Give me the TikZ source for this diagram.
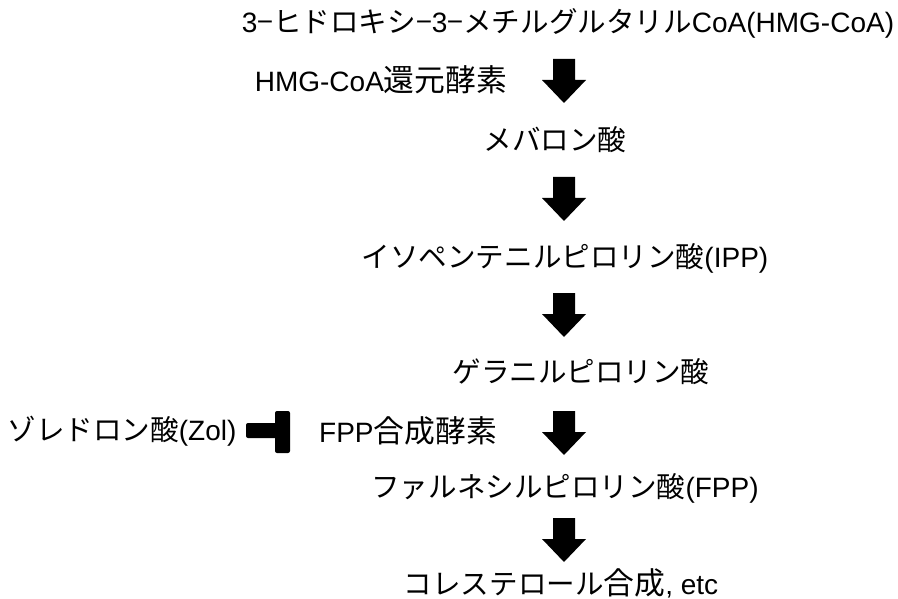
\documentclass[tikz,border=0pt]{standalone}
\usepackage{fontspec}
\setmainfont{Liberation Sans}
\newfontfamily\jp[Scale=1.02]{Noto Sans CJK JP}
\newfontfamily\kj[Scale=1.1]{Noto Sans CJK JP}
\begin{document}
\begin{tikzpicture}[x=1pt,y=-1pt,
  lbl/.style={inner sep=0pt, font=\fontsize{28}{32}\selectfont, anchor=center},
  blockarrow/.pic={\fill[black] (-11,0) -- (11,0) -- (11,21) -- (22,21) -- (0,44) -- (-22,21) -- (-11,21) -- cycle;},
  inhib/.style={fill=black, rounded corners=2pt}]
\useasboundingbox (0,0) rectangle (898,599);
\node[lbl] (hmg) at (568,23) {3{\jp −ヒドロキシ−}3{\jp −メチルグルタリル}CoA(HMG-CoA)};
\node[lbl] (red) at (381,80) {HMG-CoA{\kj 還元酵素}};
\node[lbl] (mev) at (555,140) {\jp メバロン酸};
\node[lbl] (ipp) at (565,258) {{\jp イソペンテニルピロリン酸}(IPP)};
\node[lbl] (gpp) at (581,372) {\jp ゲラニルピロリン酸};
\node[lbl] (zol) at (122,431) {{\jp ゾレドロン酸}(Zol)};
\node[lbl] (fps) at (408,431) {FPP{\kj 合成酵素}};
\node[lbl] (fpp) at (565,488) {{\jp ファルネシルピロリン酸}(FPP)};
\node[lbl] (chol) at (561,583) {{\jp コレステロール}{\kj 合成}, etc};
\pic at (564,59) {blockarrow};
\pic at (564,177) {blockarrow};
\pic at (564,293) {blockarrow};
\pic at (564,411) {blockarrow};
\pic at (564,518) {blockarrow};
\path[inhib] (246,423) rectangle (278,438);
\path[inhib] (275,411) rectangle (290,453);
\end{tikzpicture}
\end{document}
